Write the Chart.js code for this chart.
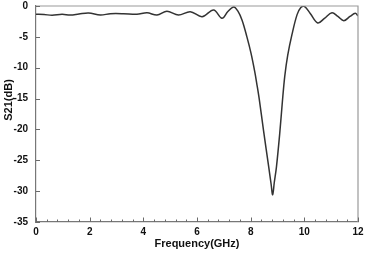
<!DOCTYPE html>
<html>
<head>
<meta charset="utf-8">
<script src="https://cdn.jsdelivr.net/npm/chart.js@4"></script>
<style>
html,body{margin:0;padding:0;background:#fff;}
#wrap{width:365px;height:256px;}
</style>
</head>
<body>
<div id="wrap"><canvas id="c" width="365" height="256"></canvas></div>
<script>
const freq = [0,0.3,0.6,0.97,1.28,1.6,1.96,2.4,2.77,3.26,3.76,4.14,4.51,4.88,5.31,5.75,6.19,6.62,6.93,7.15,7.37,7.52,7.68,7.86,8.01,8.15,8.24,8.32,8.48,8.67,8.76,8.82,8.88,8.96,9.08,9.18,9.27,9.38,9.54,9.73,9.87,10.0,10.22,10.5,10.75,11.03,11.25,11.47,11.7,11.9,12.0];
const s21 = [-1.35,-1.38,-1.5,-1.35,-1.46,-1.3,-1.14,-1.46,-1.25,-1.25,-1.35,-1.1,-1.46,-0.85,-1.46,-0.92,-1.73,-0.65,-2.0,-0.9,-0.15,-0.8,-2.3,-5.0,-7.6,-10.6,-12.9,-15.1,-20.2,-26.0,-28.8,-30.6,-28.6,-26.1,-20.8,-15.6,-11.4,-8.0,-4.6,-1.4,-0.25,-0.05,-1.2,-2.75,-2.0,-1.08,-1.7,-2.38,-1.7,-1.19,-1.6];
const xTicks = [0,2,4,6,8,10,12];
const yTicks = [0,-5,-10,-15,-20,-25,-30,-35];
const xMinorStep = 0.4;
const xTitle = 'Frequency(GHz)';
const yTitle = 'S21(dB)';

const points = freq.map((f,i)=>({x:f,y:s21[i]}));
const FONT = 'Liberation Sans, Arial, sans-serif';

const frameTicks = {
  id:'frameTicks',
  afterDraw(chart){
    const {ctx, chartArea:a, scales:{x,y}} = chart;
    ctx.save();
    ctx.strokeStyle='#9a9a9a'; ctx.lineWidth=1.2;
    ctx.beginPath();
    ctx.moveTo(a.left,a.top); ctx.lineTo(a.right,a.top); ctx.lineTo(a.right,a.bottom);
    ctx.stroke();
    ctx.strokeStyle='#6a6a6a'; ctx.lineWidth=1;
    ctx.beginPath();
    const n = Math.round((xTicks[xTicks.length-1]-xTicks[0])/xMinorStep);
    for(let i=0;i<=n;i++){
      const v = xTicks[0]+i*xMinorStep;
      const major = xTicks.some(t=>Math.abs(t-v)<1e-6);
      const px = Math.round(x.getPixelForValue(v))+0.5;
      ctx.moveTo(px,a.bottom); ctx.lineTo(px,a.bottom-(major?4.5:2.5));
    }
    yTicks.forEach(v=>{
      const py = Math.round(y.getPixelForValue(v))+0.5;
      ctx.moveTo(a.left,py); ctx.lineTo(a.left+4,py);
    });
    ctx.stroke();
    // y axis title
    ctx.translate(9, a.top + (a.bottom - a.top) * 0.435);
    ctx.rotate(-Math.PI/2);
    ctx.fillStyle='#111';
    ctx.font = 'bold 11px ' + FONT;
    ctx.textAlign='center';
    ctx.textBaseline='middle';
    ctx.fillText(yTitle,0,0);
    ctx.restore();
  }
};

new Chart(document.getElementById('c'),{
  type:'line',
  data:{datasets:[{
    data:points,
    borderColor:'#333333',
    borderWidth:1.5,
    pointRadius:0,
    tension:0.35,
    fill:false
  }]},
  options:{
    responsive:false,
    animation:false,
    events:[],
    layout:{padding:{top:6,right:7,left:0,bottom:0}},
    plugins:{legend:{display:false},tooltip:{enabled:false}},
    scales:{
      x:{
        type:'linear',min:0,max:12,
        afterBuildTicks(s){ s.ticks = xTicks.map(v=>({value:v})); },
        afterFit(s){ s.height = 34; s.paddingLeft = 0; s.paddingRight = 0; },
        grid:{display:true,drawOnChartArea:false,drawTicks:false},
        border:{display:true,color:'#777',width:1.2},
        ticks:{padding:4,color:'#111',font:{family:FONT,size:10,weight:'bold'},maxRotation:0},
        title:{display:true,text:xTitle,color:'#111',font:{family:FONT,size:11,weight:'bold'},padding:{top:0,bottom:5}}
      },
      y:{
        type:'linear',min:-35,max:0,
        afterBuildTicks(s){ s.ticks = yTicks.map(v=>({value:v})); },
        afterFit(s){ s.width = 36; s.paddingTop = 0; s.paddingBottom = 0; },
        grid:{display:true,drawOnChartArea:false,drawTicks:false},
        border:{display:true,color:'#777',width:1.2},
        ticks:{padding:8,color:'#111',font:{family:FONT,size:10,weight:'bold'}},
        title:{display:false,text:yTitle}
      }
    }
  },
  plugins:[frameTicks]
});
</script>
</body>
</html>
